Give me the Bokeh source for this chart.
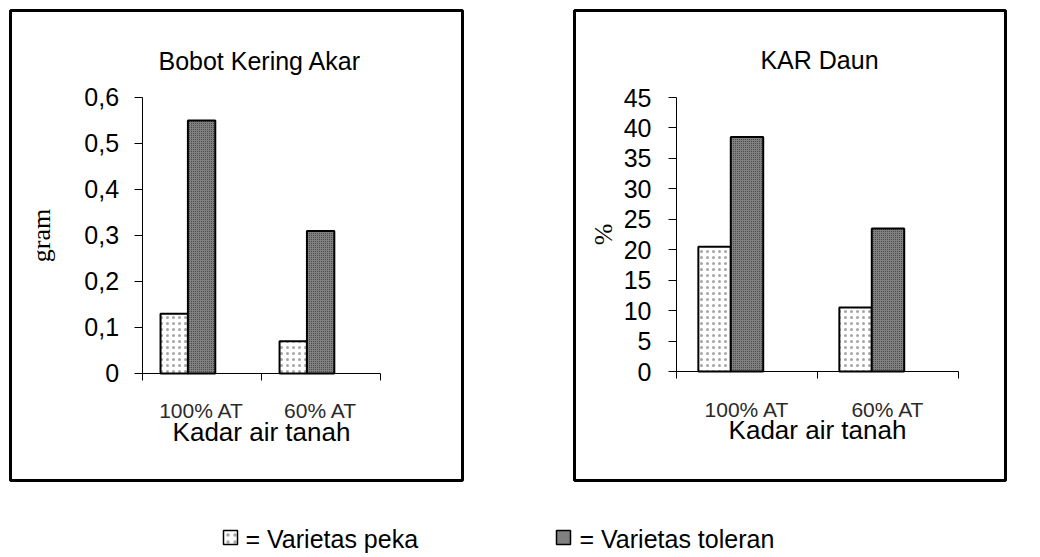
from bokeh.plotting import figure
from bokeh.models import Range1d, LinearAxis, FixedTicker, CustomJSTickFormatter, Label, Spacer
from bokeh.layouts import column, row
from bokeh.embed import file_html
from bokeh.resources import INLINE
from bokeh.core.properties import value

# ---------------- data ----------------
categories = ["100% AT", "60% AT"]
bobot_peka = [0.13, 0.07]
bobot_toleran = [0.55, 0.31]
kar_peka = [20.5, 10.5]
kar_toleran = [38.5, 23.5]
bobot_ticks = [0, 0.1, 0.2, 0.3, 0.4, 0.5, 0.6]
kar_ticks = [0, 5, 10, 15, 20, 25, 30, 35, 40, 45]
legend_labels = ["= Varietas peka", "= Varietas toleran"]

SANS = "Liberation Sans"
SERIF = "Liberation Serif"
TOL_FILL = "#808080"


def make_chart(width, xr, yr, title, title_xy, peka, toleran, ticks, ylabel,
               yfmt_code, ylabel_standoff, ylab_standoff):
    p = figure(width=width, height=474, x_range=Range1d(*xr), y_range=Range1d(*yr),
               output_backend="svg", toolbar_location=None,
               x_axis_type=None, y_axis_type=None, min_border=2)
    p.outline_line_color = "black"
    p.outline_line_width = 3
    p.background_fill_color = "white"
    p.border_fill_color = "white"

    idx = list(range(len(categories)))
    p.vbar(x=[i + 0.27 for i in idx], width=0.23, top=peka, bottom=0,
           fill_color="white", line_color="black", line_width=2,
           hatch_pattern="dot", hatch_color="black", hatch_scale=6, hatch_weight=0.5,
           hatch_alpha=0.35)
    p.vbar(x=[i + 0.5 for i in idx], width=0.23, top=toleran, bottom=0,
           fill_color=TOL_FILL, line_color="black", line_width=2,
           hatch_pattern="dot", hatch_color="#3a3a3a", hatch_scale=2, hatch_weight=0.6)

    # y axis
    yax = LinearAxis(fixed_location=0, bounds=(ticks[0], ticks[-1]),
                     ticker=FixedTicker(ticks=ticks),
                     formatter=CustomJSTickFormatter(code=yfmt_code),
                     major_tick_out=8, major_tick_in=0, minor_tick_out=0, minor_tick_in=0,
                     major_label_standoff=ylab_standoff,
                     major_label_text_font=SANS, major_label_text_font_size="25px",
                     major_label_text_color="black",
                     axis_line_color="black", major_tick_line_color="black",
                     axis_label=ylabel, axis_label_text_font=SERIF,
                     axis_label_text_font_size="26px", axis_label_text_font_style="normal",
                     axis_label_text_color="black", axis_label_standoff=ylabel_standoff)
    p.add_layout(yax, "left")

    # x axis: line + category boundary ticks
    xax = LinearAxis(fixed_location=0, bounds=(0, len(categories)),
                     ticker=FixedTicker(ticks=[0, 1, 2]),
                     formatter=CustomJSTickFormatter(code="return ''"),
                     major_tick_out=7, major_tick_in=0, minor_tick_out=0, minor_tick_in=0,
                     axis_line_color="black", major_tick_line_color="black")
    p.add_layout(xax, "below")

    # x axis: category labels + axis title
    xlab = LinearAxis(fixed_location=0, bounds=(0, len(categories)),
                      ticker=FixedTicker(ticks=[i + 0.5 for i in idx]),
                      formatter=CustomJSTickFormatter(args=dict(labels=categories),
                                                      code="return labels[Math.floor(tick)]"),
                      major_tick_out=0, major_tick_in=0, minor_tick_out=0, minor_tick_in=0,
                      axis_line_color=None, major_tick_line_color=None,
                      major_label_standoff=26,
                      major_label_text_font=SANS, major_label_text_font_size="21px",
                      major_label_text_color="#2a2a2a",
                      axis_label="Kadar air tanah", axis_label_text_font=SANS,
                      axis_label_text_font_size="26px", axis_label_text_font_style="normal",
                      axis_label_text_color="black", axis_label_standoff=-9)
    p.add_layout(xlab, "below")

    p.add_layout(Label(x=title_xy[0], y=title_xy[1], text=title, text_align="center",
                       text_baseline="alphabetic", text_font=SANS, text_font_size="25px",
                       text_color="black"))
    return p


comma_fmt = "return tick === 0 ? '0' : tick.toFixed(1).replace('.', ',');"
int_fmt = "return tick.toFixed(0);"

p1 = make_chart(456, (-1.1055, 2.692), (-0.2326, 0.7891), "Bobot Kering Akar",
                (0.99, 0.680), bobot_peka, bobot_toleran, bobot_ticks, "gram",
                comma_fmt, 26, 15)
p2 = make_chart(435, (-0.7234, 2.3333), (-17.90, 59.29), "KAR Daun",
                (1.014, 51.08), kar_peka, kar_toleran, kar_ticks, "%",
                int_fmt, 3, 17)

# ---------------- legend strip ----------------
LH = 72
p3 = figure(width=1007, height=LH, x_range=Range1d(0, 1007), y_range=Range1d(482 + LH, 482),
            output_backend="svg", toolbar_location=None, x_axis_type=None, y_axis_type=None,
            min_border=0)
p3.outline_line_color = None
p3.background_fill_color = "white"
p3.border_fill_color = "white"
p3.scatter(x=[230], y=[537], marker="square", size=14, fill_color="white",
           line_color="black", line_width=1.5, hatch_pattern="dot", hatch_color="black",
           hatch_scale=7, hatch_weight=0.5, hatch_alpha=0.35)
p3.scatter(x=[563], y=[537], marker="square", size=14, fill_color=TOL_FILL,
           line_color="black", line_width=1.5)
p3.text(x=[245, 579], y=[538, 538], text=legend_labels, text_font=value(SANS),
        text_font_size="25px", text_baseline="middle", text_align="left", text_color="black")

layout = column(
    Spacer(width=1007, height=8),
    row(Spacer(width=8, height=474), p1, Spacer(width=108, height=474), p2),
    p3,
)
open("out.html", "w").write(file_html(layout, INLINE))
